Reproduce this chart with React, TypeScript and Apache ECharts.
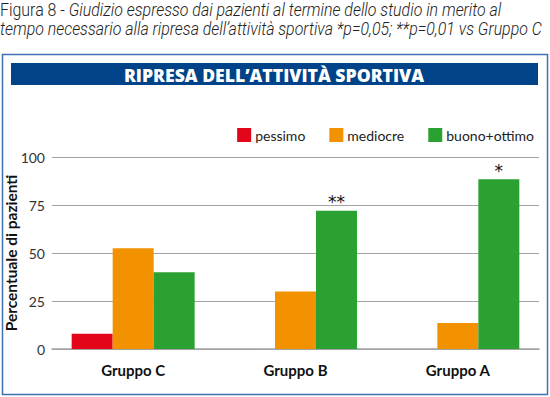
import React, { useEffect, useRef } from "react";
import * as echarts from "echarts";

const categories = ["Gruppo C", "Gruppo B", "Gruppo A"];
const seriesNames = ["pessimo", "mediocre", "buono+ottimo"];
const pessimo: (number | null)[] = [8, null, null];
const mediocre: number[] = [52.5, 30, 13.6];
const buonoOttimo: number[] = [40, 72, 88.4];
const buonoMarks: string[] = ["", "**", "*"];
const yTicks = [0, 25, 50, 75, 100];
const colors = ["#e30618", "#f39200", "#2ba131"];

const captionLine1Normal = "Figura 8 - ";
const captionLine1Italic = "Giudizio espresso dai pazienti al termine dello studio in merito al";
const captionLine2 = "tempo necessario alla ripresa dell\u2019attivit\u00e0 sportiva *p=0,05; **p=0,01 vs Gruppo C";
const bannerTitle = "RIPRESA DELL\u2019ATTIVIT\u00c0 SPORTIVA";
const yAxisName = "Percentuale di pazienti";

export default function App() {
  const ref = useRef<HTMLDivElement>(null);
  useEffect(() => {
    if (!ref.current) return;
    const chart = echarts.init(ref.current, null, { renderer: "svg" });
    const font = "Lato";
    const capStyle = { fontFamily: "Roboto", fontWeight: 300, fontSize: 18, lineHeight: 19, fill: "#222" };
    chart.setOption({
      animation: false,
      backgroundColor: "#ffffff",
      graphic: [
        {
          type: "text",
          x: 0,
          y: 0,
          scaleX: 0.885,
          style: {
            text: "{n|" + captionLine1Normal + "}{i|" + captionLine1Italic + "}\n{i|" + captionLine2 + "}",
            ...capStyle,
            rich: {
              n: { ...capStyle, fontStyle: "normal" },
              i: { ...capStyle, fontStyle: "italic" },
            },
          },
        },
        {
          type: "rect",
          shape: { x: 2.5, y: 54.5, width: 545, height: 340 },
          style: { fill: "none", stroke: "#3f71b3", lineWidth: 1.5 },
        },
        {
          type: "rect",
          shape: { x: 11, y: 63, width: 527, height: 22 },
          style: { fill: "#004388" },
        },
        {
          type: "text",
          x: 274,
          y: 74.5,
          style: {
            text: bannerTitle,
            fontFamily: "Open Sans",
            fontWeight: 800,
            fontSize: 17.6,
            fill: "#ffffff",
            align: "center",
            verticalAlign: "middle",
          },
        },
      ],
      legend: {
        right: 11,
        top: 123,
        itemWidth: 14,
        itemHeight: 14,
        itemGap: 24,
        icon: "rect",
        textStyle: { fontFamily: font, fontSize: 14, color: "#222", padding: [0, 0, 0, -1] },
        data: seriesNames,
      },
      grid: { left: 52, right: 11, top: 157, bottom: 48, containLabel: false, outerBoundsMode: "none" },
      xAxis: {
        type: "category",
        data: categories,
        axisLine: { lineStyle: { color: "#a3a3a3", width: 1.5 } },
        axisTick: { length: 10, lineStyle: { color: "#a3a3a3", width: 1.5 } },
        axisLabel: { fontFamily: font, fontWeight: "bold", fontSize: 15, color: "#111", margin: 13 },
      },
      yAxis: {
        type: "value",
        min: yTicks[0],
        max: yTicks[yTicks.length - 1],
        interval: 25,
        name: yAxisName,
        nameLocation: "middle",
        nameGap: 33,
        nameMoveOverlap: false,
        nameTextStyle: { fontFamily: font, fontWeight: "bold", fontSize: 15.5, color: "#111" },
        axisLine: { show: false },
        axisTick: { show: false },
        axisLabel: { fontFamily: font, fontSize: 14, color: "#333", margin: 7 },
        splitLine: { lineStyle: { color: "#a3a3a3", width: 1.2 } },
      },
      series: [
        { name: seriesNames[0], type: "bar", data: pessimo, barWidth: 41, barGap: "0%", itemStyle: { color: colors[0] } },
        { name: seriesNames[1], type: "bar", data: mediocre, barWidth: 41, barGap: "0%", itemStyle: { color: colors[1] } },
        {
          name: seriesNames[2],
          type: "bar",
          barWidth: 41,
          barGap: "0%",
          itemStyle: { color: colors[2] },
          data: buonoOttimo.map((v, i) => ({
            value: v,
            label: {
              show: buonoMarks[i] !== "",
              position: "top",
              formatter: buonoMarks[i],
              fontFamily: "DejaVu Sans",
              fontSize: 17,
              color: "#111",
              distance: 0,
            },
          })),
        },
      ],
    });
    return () => chart.dispose();
  }, []);
  return <div ref={ref} style={{ position: "fixed", left: 0, top: 0, width: 550, height: 397 }} />;
}
